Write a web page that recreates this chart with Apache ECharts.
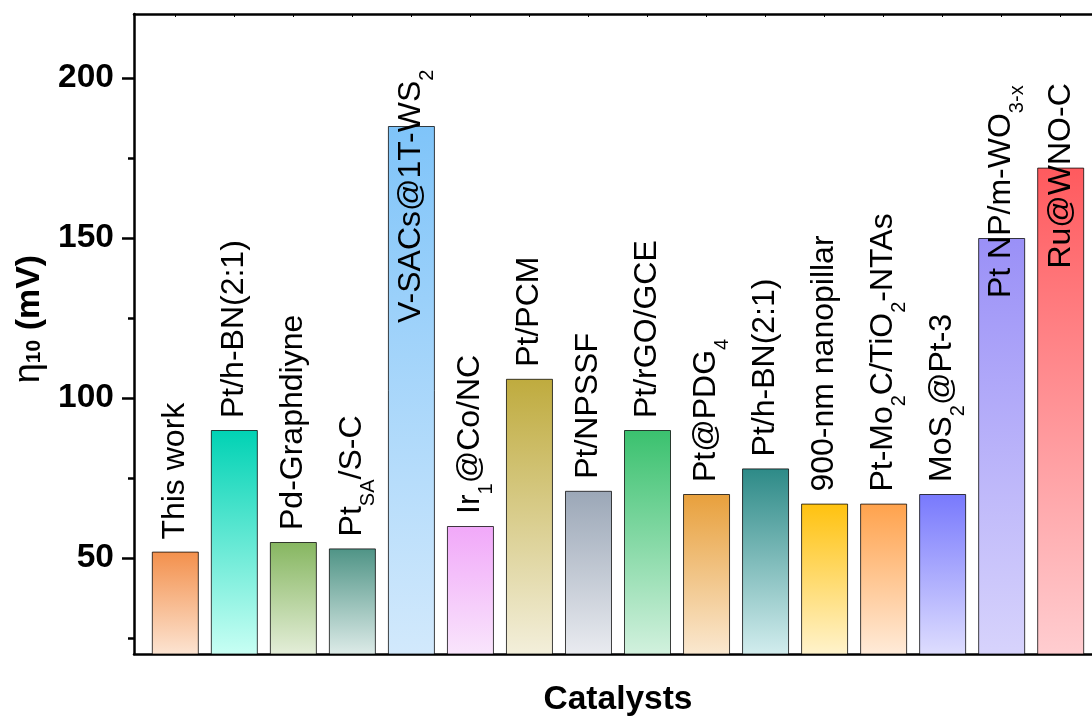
<!DOCTYPE html>
<html>
<head>
<meta charset="utf-8">
<script src="https://cdn.jsdelivr.net/npm/echarts@6/dist/echarts.min.js"></script>
<style>
  html, body { margin: 0; padding: 0; background: #fff; }
  #chart { width: 1092px; height: 722px; }
</style>
</head>
<body>
<div id="chart"></div>
<script>
// Catalyst names; text inside _{...} is drawn as a subscript
const catalysts = [
  'This work', 'Pt/h-BN(2:1)', 'Pd-Graphdiyne', 'Pt_{SA}/S-C', 'V-SACs@1T-WS_{2}',
  'Ir_{1}@Co/NC', 'Pt/PCM', 'Pt/NPSSF', 'Pt/rGO/GCE', 'Pt@PDG_{4}', 'Pt/h-BN(2:1)',
  '900-nm nanopillar', 'Pt-Mo_{2}C/TiO_{2}-NTAs', 'MoS_{2}@Pt-3', 'Pt NP/m-WO_{3-x}', 'Ru@WNO-C'
];
// Overpotential at 10 mA cm^-2 (mV)
const eta10 = [52, 90, 55, 53, 185, 60, 106, 71, 90, 70, 78, 67, 67, 70, 150, 172];
// Bar gradient colours (top -> bottom)
const topColors = [
  '#F3904C', '#00D2B4', '#86B660', '#4F9486', '#7FC4F9', '#F1A8F9', '#BFAB3E', '#9BA7B7',
  '#3AC16E', '#E8A03C', '#2D8A87', '#FFC20F', '#FFA24C', '#7879FD', '#9A90F7', '#FF5A5E'
];
const bottomColors = [
  '#FCE4D2', '#C8FFF4', '#E4EED9', '#DDEBE8', '#D2E9FC', '#F9E5FC', '#F3EFDB', '#E9EBF0',
  '#D2F1DE', '#FAE8D0', '#D2EDEE', '#FFF3CC', '#FFEBD9', '#DEDDFE', '#D7D3FC', '#FFCDD0'
];
// Y-axis tick values
const majorTicks = [50, 100, 150, 200];
const minorTicks = [25, 75, 125, 175];

// Labels that sit lower than the bar top (pixels, along the bar)
const labelShift = { 4: 209, 14: 72, 15: 113 };

const FONT = "'Liberation Sans', Arial, Helvetica, sans-serif";

function toRich(name) {
  return name.split(/(_\{[^}]*\})/).filter(s => s.length).map(s => {
    const m = s.match(/^_\{([^}]*)\}$/);
    return m ? '{s|' + m[1] + '}' : '{m|' + s + '}';
  }).join('');
}

const positions = catalysts.map((_, i) => i + 1);

const barData = eta10.map((v, i) => {
  const item = {
    value: [positions[i], v],
    itemStyle: {
      color: new echarts.graphic.LinearGradient(0, 0, 0, 1, [
        { offset: 0, color: topColors[i] },
        { offset: 1, color: bottomColors[i] }
      ])
    }
  };
  if (labelShift[i] !== undefined) {
    item.label = { offset: [-labelShift[i], 0] };
  }
  return item;
});

const chart = echarts.init(document.getElementById('chart'));
chart.setOption({
  animation: false,
  backgroundColor: '#fff',
  textStyle: { fontFamily: FONT },
  grid: { left: 134, top: 14, width: 968, bottom: 68, outerBoundsMode: 'none', containLabel: false },
  xAxis: [
    {
      type: 'value', min: 0.3, max: 16.7, position: 'bottom',
      name: 'Catalysts', nameLocation: 'middle', nameGap: 29,
      nameTextStyle: { fontFamily: FONT, fontSize: 33.5, fontWeight: 'bold', color: '#000' },
      axisLine: { show: true, onZero: false, lineStyle: { color: '#000', width: 2.5 } },
      axisTick: { show: false }, axisLabel: { show: false }, splitLine: { show: false }
    },
    {
      type: 'value', min: 0.3, max: 16.7, position: 'top',
      axisLine: { show: true, onZero: false, lineStyle: { color: '#000', width: 2.5 } },
      axisTick: { show: true, inside: true, length: 3, customValues: positions, lineStyle: { color: '#000', width: 1 } },
      axisLabel: { show: false }, splitLine: { show: false }
    }
  ],
  yAxis: [
    {
      type: 'value', min: 20, max: 220, position: 'left',
      name: '{eta|η}{sub|10}{b| (mV)}', nameLocation: 'middle', nameGap: 80, nameRotate: 90,
      nameTextStyle: {
        color: '#000', padding: [0, 0, 0, 30],
        rich: {
          eta: { fontFamily: FONT, fontSize: 36, color: '#000', lineHeight: 42 },
          sub: { fontFamily: FONT, fontSize: 21, fontWeight: 'bold', color: '#000', lineHeight: 21, padding: [10, 0, 0, 0] },
          b: { fontFamily: FONT, fontSize: 34, fontWeight: 'bold', color: '#000', lineHeight: 42 }
        }
      },
      axisLine: { show: true, onZero: false, lineStyle: { color: '#000', width: 2.5 } },
      axisTick: { show: true, length: 12, customValues: majorTicks, lineStyle: { color: '#000', width: 2.5 } },
      axisLabel: { show: true, customValues: majorTicks, margin: 20, fontFamily: FONT, fontSize: 33.5, fontWeight: 'bold', color: '#000' },
      splitLine: { show: false }
    },
    {
      type: 'value', min: 20, max: 220, position: 'left', offset: 0,
      axisLine: { show: false },
      axisTick: { show: true, length: 6, customValues: minorTicks, lineStyle: { color: '#000', width: 2.5 } },
      axisLabel: { show: false }, splitLine: { show: false }
    }
  ],
  series: [{
    type: 'bar',
    xAxisIndex: 0, yAxisIndex: 0,
    barWidth: 47,
    data: barData,
    itemStyle: { borderColor: 'rgba(0,0,0,0.75)', borderWidth: 1 },
    label: {
      show: true,
      position: 'top',
      distance: 12,
      rotate: 90,
      align: 'left',
      verticalAlign: 'middle',
      formatter: p => toRich(catalysts[p.dataIndex]),
      rich: {
        m: { fontFamily: FONT, fontSize: 32, color: '#000', lineHeight: 40 },
        s: { fontFamily: FONT, fontSize: 20, color: '#000', lineHeight: 20, padding: [32, 0, 0, 0] }
      }
    },
    z: 2
  }]
});
</script>
</body>
</html>
